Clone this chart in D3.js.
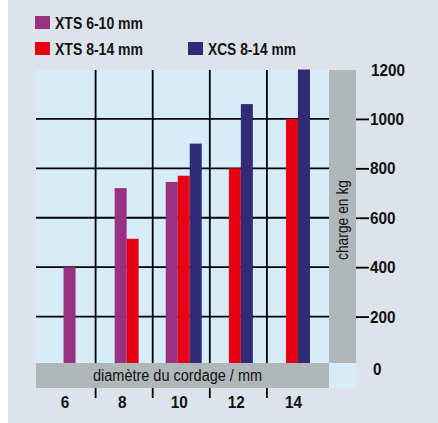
<!DOCTYPE html>
<html>
<head>
<meta charset="utf-8">
<script src="https://cdn.jsdelivr.net/npm/d3@7"></script>
<style>
  body { margin: 0; background: #fff; }
  text { font-family: "Liberation Sans", Arial, sans-serif; fill: #111; }
  .bold { font-weight: bold; }
</style>
</head>
<body>
<div id="chart"></div>
<script>
// diameters (x categories)
var diameters = ['6', '8', '10', '12', '14'];
// series names and values (kg), null = no bar
var seriesNames = ['XTS 6-10 mm', 'XTS 8-14 mm', 'XCS 8-14 mm'];
var xts610 = [400, 720, 745, null, null];
var xts814 = [null, 515, 770, 800, 1000];
var xcs814 = [null, null, 900, 1060, 1200];
var yTicks = [0, 200, 400, 600, 800, 1000, 1200];
var colors = ['#993183', '#e60012', '#312a76'];

var svgWidth = 438;
var svgHeight = 423;

var plot = { left: 36, right: 329, top: 70, bottom: 363 };
var barWidth = 12;

var svg = d3
  .select('#chart')
  .append('svg')
  .attr('width', svgWidth)
  .attr('height', svgHeight);

// background panel
svg.append('rect')
  .attr('x', 8).attr('y', 0)
  .attr('width', svgWidth - 8).attr('height', svgHeight)
  .attr('fill', '#dde3eb');

// plot area
svg.append('rect')
  .attr('x', plot.left).attr('y', plot.top)
  .attr('width', plot.right - plot.left).attr('height', plot.bottom - plot.top)
  .attr('fill', '#d6ecf8');

// scales
var xScale = d3.scaleBand().domain(diameters).range([38.5, 324]).padding(0);
var yScale = d3.scaleLinear().domain([0, 1200]).range([366, 69.5]);

// horizontal grid lines
svg.append('g')
  .selectAll('line')
  .data(yTicks.filter((d) => d > 0 && d < 1200))
  .enter()
  .append('line')
  .attr('x1', plot.left).attr('x2', plot.right)
  .attr('y1', (d) => yScale(d)).attr('y2', (d) => yScale(d))
  .attr('stroke', '#000').attr('stroke-width', 1.8);

// vertical grid lines between categories
var bounds = diameters.slice(1).map((d) => xScale(d));
svg.append('g')
  .selectAll('line')
  .data(bounds)
  .enter()
  .append('line')
  .attr('x1', (d) => d).attr('x2', (d) => d)
  .attr('y1', plot.top).attr('y2', plot.bottom)
  .attr('stroke', '#000').attr('stroke-width', 1.8);

// bars, centred in their category (only the series that exist)
var allSeries = [xts610, xts814, xcs814];
var barData = [];
diameters.forEach(function (d, i) {
  var present = [];
  allSeries.forEach(function (s, j) {
    if (s[i] != null) present.push({ cat: d, value: s[i], series: j });
  });
  var start = xScale(d) + xScale.bandwidth() / 2 + 2.5 - (present.length * barWidth) / 2;
  present.forEach(function (p, k) {
    p.x = start + k * barWidth;
    barData.push(p);
  });
});

svg.append('g')
  .selectAll('rect')
  .data(barData)
  .enter()
  .append('rect')
  .attr('x', (d) => d.x)
  .attr('y', (d) => yScale(d.value))
  .attr('width', barWidth)
  .attr('height', (d) => yScale(0) - yScale(d.value))
  .attr('fill', (d) => colors[d.series]);

// gray strip on right and label band at bottom
svg.append('rect')
  .attr('x', plot.right).attr('y', plot.top)
  .attr('width', 27).attr('height', plot.bottom - plot.top)
  .attr('fill', '#b0b7b8');
svg.append('rect')
  .attr('x', plot.left).attr('y', plot.bottom)
  .attr('width', plot.right - plot.left).attr('height', 25)
  .attr('fill', '#b0b7b8');
svg.append('rect')
  .attr('x', plot.right).attr('y', plot.bottom)
  .attr('width', 27).attr('height', 25)
  .attr('fill', '#d6ecf8');

// y axis on the right
var rightAxis = d3.axisRight(yScale)
  .tickValues(yTicks)
  .tickSize(13)
  .tickPadding(1)
  .tickFormat(d3.format('d'));
var yAxis = svg.append('g')
  .attr('transform', 'translate(356, 0)')
  .call(rightAxis);
yAxis.select('.domain').remove();
yAxis.selectAll('.tick line')
  .attr('stroke', '#000').attr('stroke-width', 1.8)
  .attr('display', (d) => (d === 0 || d === 1200 ? 'none' : null));
yAxis.selectAll('.tick text')
  .attr('class', 'bold')
  .attr('font-size', 16)
  .attr('x', (d) => (d === 0 ? 17 : d === 1200 ? 15 : 14))
  .attr('dy', (d) => (d === 0 ? '0.5em' : '0.35em'))
  .attr('textLength', (d) => String(d).length * 8.5)
  .attr('lengthAdjust', 'spacingAndGlyphs')
  .style('font-family', null);

// x axis ticks below the label band
var bottomAxis = d3.axisBottom(xScale).tickSize(0).tickPadding(9);
var xAxis = svg.append('g')
  .attr('transform', `translate(0, ${plot.bottom + 25})`)
  .call(bottomAxis);
xAxis.select('.domain').remove();
xAxis.selectAll('.tick text')
  .attr('class', 'bold')
  .attr('font-size', 16)
  .attr('x', -2)
  .attr('textLength', (d) => d.length * 8.5)
  .attr('lengthAdjust', 'spacingAndGlyphs')
  .style('font-family', null);

svg.append('g')
  .selectAll('line')
  .data(bounds)
  .enter()
  .append('line')
  .attr('x1', (d) => d).attr('x2', (d) => d)
  .attr('y1', plot.bottom + 25).attr('y2', plot.bottom + 35)
  .attr('stroke', '#000').attr('stroke-width', 1.8);

// axis titles
svg.append('text')
  .attr('x', 93).attr('y', 381)
  .attr('font-size', 16)
  .attr('textLength', 169)
  .attr('lengthAdjust', 'spacingAndGlyphs')
  .text('diamètre du cordage / mm');

svg.append('text')
  .attr('transform', 'translate(348, 260) rotate(-90)')
  .attr('font-size', 16)
  .attr('textLength', 80)
  .attr('lengthAdjust', 'spacingAndGlyphs')
  .text('charge en kg');

// legend
var legendItems = [
  { name: seriesNames[0], color: colors[0], x: 35, y: 16 },
  { name: seriesNames[1], color: colors[1], x: 35, y: 42 },
  { name: seriesNames[2], color: colors[2], x: 188, y: 42 },
];
var legend = svg.append('g')
  .selectAll('g')
  .data(legendItems)
  .enter()
  .append('g')
  .attr('transform', (d) => `translate(${d.x}, ${d.y})`);
legend.append('rect')
  .attr('width', 15).attr('height', 13)
  .attr('fill', (d) => d.color);
legend.append('text')
  .attr('class', 'bold')
  .attr('x', 20).attr('y', 13)
  .attr('font-size', 17)
  .attr('textLength', 88)
  .attr('lengthAdjust', 'spacingAndGlyphs')
  .text((d) => d.name);
</script>
</body>
</html>
